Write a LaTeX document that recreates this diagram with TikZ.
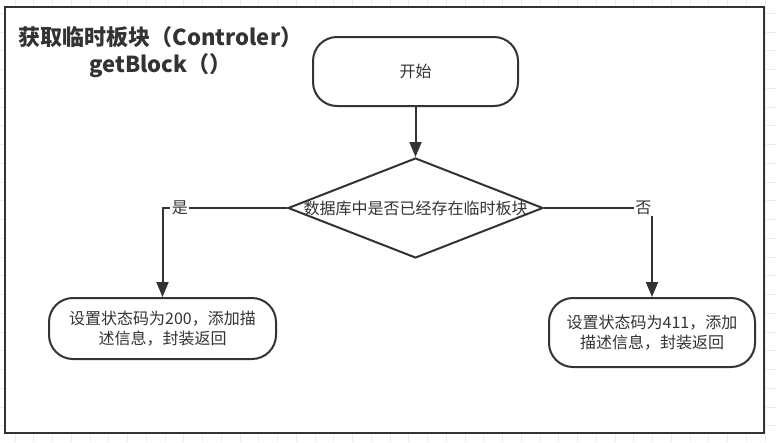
\documentclass[tikz,border=0pt]{standalone}
\usepackage{fontspec}
\newfontfamily\cjk{Noto Sans CJK SC}
\usetikzlibrary{shapes.geometric, arrows.meta}
\definecolor{ink}{HTML}{333333}
\definecolor{gridgray}{HTML}{EBEBEB}

\begin{document}
\begin{tikzpicture}[x=1pt, y=-1pt, line width=2pt,
  font=\cjk\fontsize{16}{20}\selectfont,
  gridline/.style={gridgray, line width=1pt},
  terminal/.style={draw=ink, text=ink, rounded corners=24pt, align=center, inner sep=0pt},
  decision/.style={draw=ink, text=ink, diamond, inner sep=0pt, minimum width=255pt, minimum height=100pt},
  flow/.style={draw=ink, -{Triangle[width=12pt, length=15pt]}},
  branch/.style={fill=white, text=ink, inner sep=1.5pt}]%
  \useasboundingbox (0,0) rectangle (776,442);
  \foreach \i in {0, ..., 40} {
    \draw[gridline] ({15+18.75*\i},0) -- ({15+18.75*\i},442);
  }
  \foreach \i in {-1, ..., 21} {
    \draw[gridline] (0,{32+18.75*\i}) -- (776,{32+18.75*\i});
  }
  \draw[ink, fill=white] (5,7) rectangle (764,433);
  \node[text=ink, align=center, font=\cjk\bfseries\fontsize{22}{27}\selectfont] (title) at (160.5,52)
    {获取临时板块（Controler）\\getBlock（）};
  \node[terminal, minimum width=205pt, minimum height=69pt] (start) at (415.5,71.5) {开始};
  \node[decision] (check) at (415.5,208) {\makebox[0pt]{数据库中是否已经存在临时板块}};
  \node[terminal, minimum width=227pt, minimum height=61pt] (found) at (162.5,328.5)
    {设置状态码为200，添加描\\述信息，封装返回};
  \node[terminal, minimum width=206pt, minimum height=69pt] (missing) at (652,332.5)
    {设置状态码为411，添加\\描述信息，封装返回};
  \draw[flow] (start) -- (check);
  \draw[flow] (check.west) -| node[branch, pos=.43] {是} (found.north);
  \draw[flow] (check.east) -| node[branch, pos=.46] {否} (missing.north);
\end{tikzpicture}
\end{document}
